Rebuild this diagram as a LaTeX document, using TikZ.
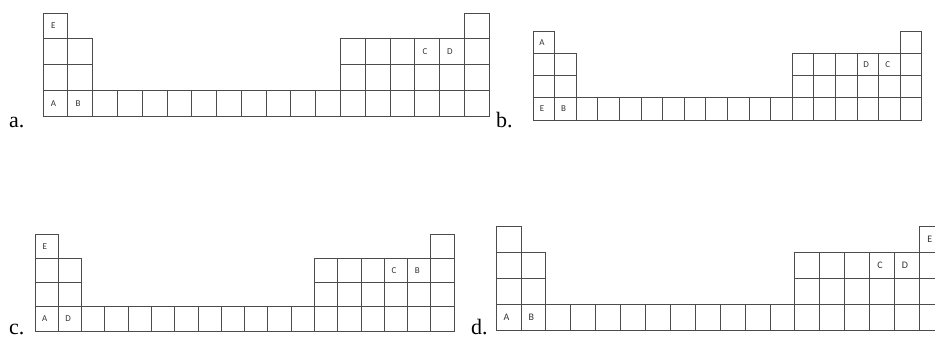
\documentclass[tikz,border=0pt]{standalone}
\usepackage{fontspec}
\setmainfont{Liberation Serif}
\newfontfamily\cellfont{Carlito}
\usepackage{tikz}

% one table outline, in cell units (column 0..17, row 0..3 from the top)
\newcommand{\pgrid}{%
  \foreach \r in {0,1,2,3} {
    \draw[pcell] (0,\r) rectangle ++(1,1);
    \draw[pcell] (17,\r) rectangle ++(1,1);
  }
  \foreach \r in {1,2,3}
    \foreach \c in {1,12,13,14,15,16}
      \draw[pcell] (\c,\r) rectangle ++(1,1);
  \foreach \c in {2,...,11}
    \draw[pcell] (\c,3) rectangle ++(1,1);
}

\tikzset{
  pcell/.style={draw=black!70, line width=0.8pt},
  elem/.style={font=\cellfont\fontsize{9}{9}\selectfont, text=black!80, inner sep=0pt},
  plabel/.style={font=\fontsize{22}{22}\selectfont, anchor=base west, inner sep=0pt}
}

\begin{document}
\begin{tikzpicture}[x=1pt, y=-1pt]
  \clip (0,0) rectangle (935,338);
  \fill[white] (0,0) rectangle (935,338);
  % a.
  \begin{scope}[shift={(43,13)}, x=24.78pt, y=-25.75pt]
    \pgrid
    \node[elem] (aE) at (0.42,0.5) {E};
    \node[elem] (aC) at (15.42,1.5) {C};
    \node[elem] (aD) at (16.42,1.5) {D};
    \node[elem] (aA) at (0.42,3.5) {A};
    \node[elem] (aB) at (1.42,3.5) {B};
  \end{scope}
  \node[plabel] (la) at (9,127) {a.};
  % b.
  \begin{scope}[shift={(533,31)}, x=21.6pt, y=-22.25pt]
    \pgrid
    \node[elem] (bA) at (0.42,0.5) {A};
    \node[elem] (bD) at (15.42,1.5) {D};
    \node[elem] (bC) at (16.42,1.5) {C};
    \node[elem] (bE) at (0.42,3.5) {E};
    \node[elem] (bB) at (1.42,3.5) {B};
  \end{scope}
  \node[plabel] (lb) at (496,127) {b.};
  % c.
  \begin{scope}[shift={(35,234)}, x=23.28pt, y=-24.25pt]
    \pgrid
    \node[elem] (cE) at (0.42,0.5) {E};
    \node[elem] (cC) at (15.42,1.5) {C};
    \node[elem] (cB) at (16.42,1.5) {B};
    \node[elem] (cA) at (0.42,3.5) {A};
    \node[elem] (cD) at (1.42,3.5) {D};
  \end{scope}
  \node[plabel] (lc) at (9,334) {c.};
  % d.
  \begin{scope}[shift={(496,226)}, x=24.9pt, y=-26pt]
    \pgrid
    \node[elem, font=\cellfont\fontsize{10}{10}\selectfont] (dE) at (17.42,0.5) {E};
    \node[elem, font=\cellfont\fontsize{10}{10}\selectfont] (dC) at (15.42,1.5) {C};
    \node[elem, font=\cellfont\fontsize{10}{10}\selectfont] (dD) at (16.42,1.5) {D};
    \node[elem, font=\cellfont\fontsize{10}{10}\selectfont] (dA) at (0.42,3.5) {A};
    \node[elem, font=\cellfont\fontsize{10}{10}\selectfont] (dB) at (1.42,3.5) {B};
  \end{scope}
  \node[plabel] (ld) at (471,334) {d.};
\end{tikzpicture}
\end{document}
